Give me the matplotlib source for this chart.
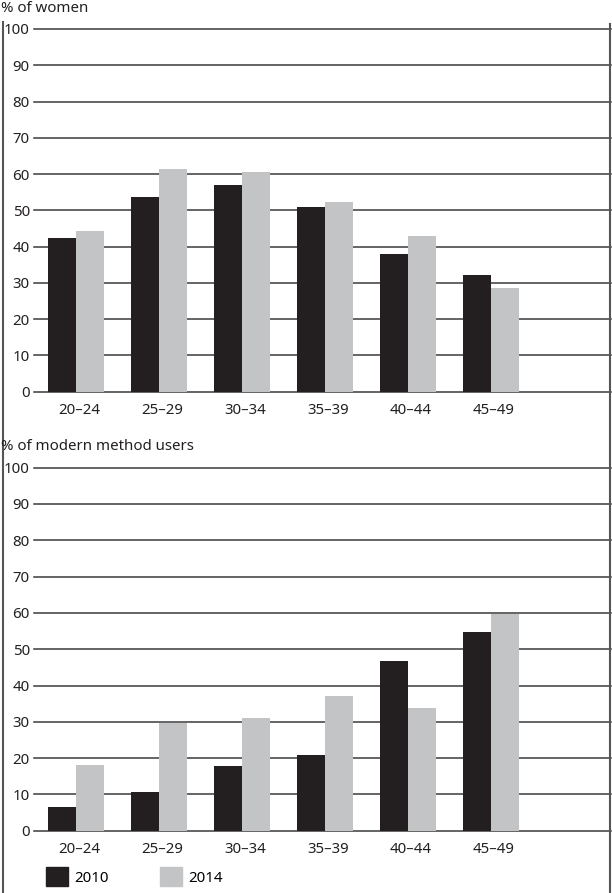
import matplotlib
matplotlib.use("Agg")
import numpy as np
import matplotlib.pyplot as plt
from matplotlib.lines import Line2D
from matplotlib.patches import Patch

plt.rcParams['font.family'] = ['Noto Sans', 'DejaVu Sans']

ages = ['20–24', '25–29', '30–34', '35–39', '40–44', '45–49']
women_2010 = [42.5, 53.7, 56.9, 50.9, 38.0, 32.1]
women_2014 = [44.3, 61.3, 60.5, 52.3, 42.9, 28.6]
modern_2010 = [6.6, 10.6, 17.9, 20.9, 46.8, 54.8]
modern_2014 = [18.1, 29.8, 31.0, 37.1, 33.8, 59.8]
years = ['2010', '2014']

dark = '#231f20'
grey = '#c3c4c6'
fs = 10.8

W, H = 612, 893
fig = plt.figure(figsize=(W / 100, H / 100), dpi=100)

def panel(bottom_px, top_px, v10, v14, title, title_y):
    ax = fig.add_axes([34 / W, 1 - bottom_px / H, 577 / W, (bottom_px - top_px) / H])
    x = np.arange(len(ages))
    bw = 0.34
    ax.bar(x - bw / 2, v10, bw, color=dark, zorder=3)
    ax.bar(x + bw / 2, v14, bw, color=grey, zorder=3)
    for v in range(0, 101, 10):
        ax.axhline(v, color='#3a3a3a', lw=1.1, zorder=1, clip_on=False)
    ax.set_ylim(0, 100)
    ax.set_xlim(-0.506, 6.45)
    ax.set_yticks(range(0, 101, 10))
    ax.set_xticks(x + 0.04)
    ax.set_xticklabels(ages)
    ax.tick_params(axis='both', length=0, labelsize=fs, colors='#231f20')
    ax.tick_params(axis='y', pad=3)
    ax.tick_params(axis='x', pad=8)
    for s in ax.spines.values():
        s.set_visible(False)
    fig.text(1 / W, 1 - title_y / H, title, fontsize=fs, va='center', ha='left', color='#231f20')
    return ax

ax1 = panel(391.7, 29, women_2010, women_2014, '% of women', 8)
ax2 = panel(830.7, 467.7, modern_2010, modern_2014, '% of modern method users', 446)

# frame lines at left and right of the figure
fig.add_artist(Line2D([3.5 / W, 3.5 / W], [1 - 22 / H, 0], color='#555555', lw=1.5))
fig.add_artist(Line2D([609.5 / W, 609.5 / W], [1 - 24 / H, 0], color='#555555', lw=1.5))

handles = [Patch(color=dark), Patch(color=grey)]
fig.legend(handles, years, loc='upper left', bbox_to_anchor=(46 / W, 1 - 867 / H),
           ncol=2, frameon=False, fontsize=fs, handlelength=1.45, handleheight=1.6,
           handletextpad=0.45, columnspacing=3.4, borderpad=0, borderaxespad=0)

fig.savefig('out.png', dpi=100)
